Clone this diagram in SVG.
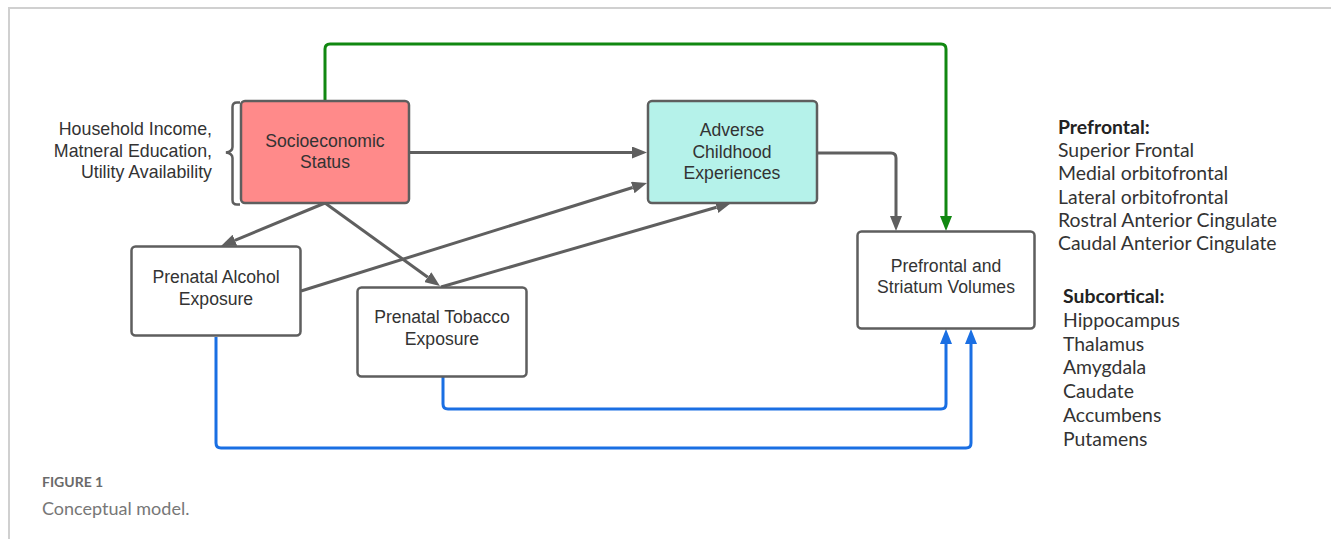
<svg xmlns="http://www.w3.org/2000/svg" width="1331" height="539" viewBox="0 0 1331 539">
<defs>
<style>
.box{stroke:#5e5e5e;stroke-width:2.5}
.nt{font-family:"Liberation Sans",Arial,sans-serif;font-size:17.6px;fill:#333;text-anchor:middle}
.lt{font-family:"Liberation Sans",Arial,sans-serif;font-size:17.8px;fill:#333;text-anchor:end}
.rt{font-family:Lato,"Open Sans",sans-serif;font-size:19.4px;fill:#333}
.rh{font-weight:bold;fill:#222}
.c{fill:none;stroke-width:3}
.g{stroke:#5f5f5f}
.gr{stroke:#118811}
.b{stroke:#1a6fe3}
</style>
<marker id="ag" viewBox="0 0 15 12" refX="0" refY="6" markerWidth="15" markerHeight="12" markerUnits="userSpaceOnUse" orient="auto"><path d="M0,0 L15,6 L0,12 z" fill="#5f5f5f"/></marker>
<marker id="agr" viewBox="0 0 15 12" refX="0" refY="6" markerWidth="15" markerHeight="12" markerUnits="userSpaceOnUse" orient="auto"><path d="M0,0 L15,6 L0,12 z" fill="#118811"/></marker>
<marker id="ab" viewBox="0 0 15 12" refX="0" refY="6" markerWidth="15" markerHeight="12" markerUnits="userSpaceOnUse" orient="auto"><path d="M0,0 L15,6 L0,12 z" fill="#1a6fe3"/></marker>
</defs>
<rect width="1331" height="539" fill="#fff"/>
<path d="M9,539 V8 H1331" fill="none" stroke="#d0d0d0" stroke-width="2"/>

<g id="connectors">
<path class="c gr" d="M325,101 V49 Q325,44 330,44 H941 Q946,44 946,49 V216" marker-end="url(#agr)"/>
<path class="c g" d="M409,152.5 H632" marker-end="url(#ag)"/>
<path class="c g" d="M817,153 H891 Q896,153 896,158 V216" marker-end="url(#ag)"/>
<path class="c g" d="M325,203 L234.9,240.3" marker-end="url(#ag)"/>
<path class="c g" d="M325,203 L427.8,277.2" marker-end="url(#ag)"/>
<path class="c g" d="M301,291 L632.7,187.5" marker-end="url(#ag)"/>
<path class="c g" d="M441,287 L716.6,207.2" marker-end="url(#ag)"/>
<path class="c b" d="M443,377 V404 Q443,409 448,409 H941 Q946,409 946,404 V344" marker-end="url(#ab)"/>
<path class="c b" d="M216,337 V443 Q216,448 221,448 H966 Q971,448 971,443 V344" marker-end="url(#ab)"/>
</g>

<g id="ses-factors">
<text class="lt" x="212" y="135">Household Income,</text>
<text class="lt" x="212" y="157">Matneral Education,</text>
<text class="lt" x="212" y="178">Utility Availability</text>
<path d="M240,102.5 H237 Q232.5,102.5 232.5,107 V147 Q232.5,151.5 226,152.5 Q232.5,153.5 232.5,158 V200 Q232.5,204.5 237,204.5 H240" fill="none" stroke="#5e5e5e" stroke-width="2.5"/>
</g>

<g id="ses">
<rect class="box" x="241" y="101" width="168" height="102" rx="4" fill="#ff8a8a"/>
<text class="nt" x="325" y="147">Socioeconomic</text>
<text class="nt" x="325" y="168">Status</text>
</g>

<g id="ace">
<rect class="box" x="648" y="101" width="169" height="102" rx="4" fill="#b5f2ea"/>
<text class="nt" x="732" y="136">Adverse</text>
<text class="nt" x="732" y="158">Childhood</text>
<text class="nt" x="732" y="179">Experiences</text>
</g>

<g id="alcohol">
<rect class="box" x="131.5" y="246.5" width="169" height="89" rx="4" fill="#fff"/>
<text class="nt" x="216" y="283">Prenatal Alcohol</text>
<text class="nt" x="216" y="305">Exposure</text>
</g>

<g id="tobacco">
<rect class="box" x="357.5" y="287.5" width="169" height="89" rx="4" fill="#fff"/>
<text class="nt" x="442" y="323">Prenatal Tobacco</text>
<text class="nt" x="442" y="345">Exposure</text>
</g>

<g id="volumes">
<rect class="box" x="857.5" y="231.5" width="177" height="97" rx="4" fill="#fff"/>
<text class="nt" x="946" y="272">Prefrontal and</text>
<text class="nt" x="946" y="293">Striatum Volumes</text>
</g>

<g id="region-list">
<text class="rt rh" x="1058" y="134">Prefrontal:</text>
<text class="rt" x="1058" y="157">Superior Frontal</text>
<text class="rt" x="1058" y="180">Medial orbitofrontal</text>
<text class="rt" x="1058" y="203.5">Lateral orbitofrontal</text>
<text class="rt" x="1058" y="227">Rostral Anterior Cingulate</text>
<text class="rt" x="1058" y="250">Caudal Anterior Cingulate</text>
<text class="rt rh" x="1063" y="303">Subcortical:</text>
<text class="rt" x="1063" y="327">Hippocampus</text>
<text class="rt" x="1063" y="350.5">Thalamus</text>
<text class="rt" x="1063" y="374">Amygdala</text>
<text class="rt" x="1063" y="398">Caudate</text>
<text class="rt" x="1063" y="421.5">Accumbens</text>
<text class="rt" x="1063" y="445.5">Putamens</text>
</g>

<g id="caption">
<text x="42" y="487" font-family="Lato,'Open Sans',sans-serif" font-size="14" font-weight="bold" fill="#6a6a6a">FIGURE 1</text>
<text x="42" y="515" font-family="Lato,'Open Sans',sans-serif" font-size="18" fill="#777">Conceptual model.</text>
</g>
</svg>
